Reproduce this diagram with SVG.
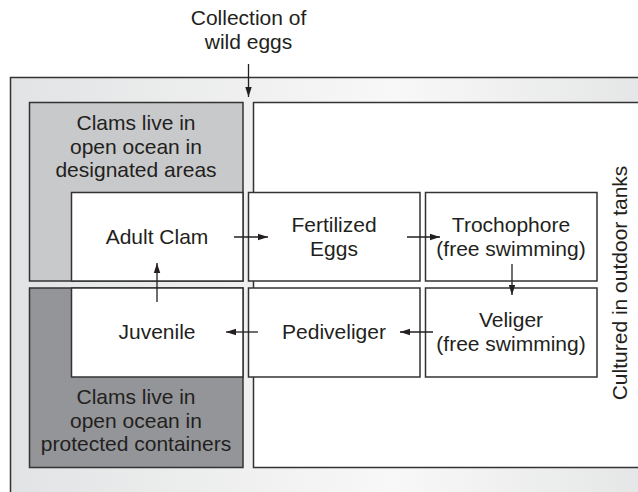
<svg xmlns="http://www.w3.org/2000/svg" width="638" height="492" viewBox="0 0 638 492">
<style>
text{font-family:"Liberation Sans",Arial,Helvetica,sans-serif;font-size:21px;fill:#231f20;text-anchor:middle}
.box{fill:#fff;stroke:#333;stroke-width:1.5}
.edge{stroke:#231f20;stroke-width:1.3;fill:none}
</style>
<defs>
<linearGradient id="fr" x1="0" y1="0" x2="1" y2="0">
<stop offset="0" stop-color="#e2e3e4"/>
<stop offset="0.55" stop-color="#f8f8f8"/>
<stop offset="1" stop-color="#e0e1e2"/>
</linearGradient>
<marker id="ah" viewBox="0 0 10 8" refX="10" refY="4" markerWidth="10" markerHeight="8" markerUnits="userSpaceOnUse" orient="auto">
<path d="M0,0.8 L10,4 L0,7.2 Z" fill="#231f20"/>
</marker>
</defs>
<g id="frame">
<rect x="10.5" y="77.5" width="700" height="500" fill="url(#fr)" stroke="#333" stroke-width="1.5"/>
</g>
<g id="tanks">
<rect x="253.5" y="102.5" width="450" height="365" class="box"/>
<text transform="translate(627,283) rotate(-90)">Cultured in outdoor tanks</text>
</g>
<g id="designated">
<rect x="29.5" y="102.5" width="213.5" height="178.5" fill="#c8c9cb" stroke="#333" stroke-width="1.5"/>
<text x="136" y="130">Clams live in</text>
<text x="136" y="153.5">open ocean in</text>
<text x="136" y="177">designated areas</text>
</g>
<g id="protected">
<rect x="29.5" y="288" width="213.5" height="179.5" fill="#939598" stroke="#333" stroke-width="1.5"/>
<text x="136" y="404">Clams live in</text>
<text x="136" y="427.5">open ocean in</text>
<text x="136" y="451">protected containers</text>
</g>
<g id="adult">
<rect x="71.5" y="192.5" width="171.5" height="88.5" class="box"/>
<text x="157" y="244">Adult Clam</text>
</g>
<g id="fertilized">
<rect x="248.5" y="192.5" width="171.5" height="88.5" class="box"/>
<text x="334" y="232">Fertilized</text>
<text x="334" y="255.5">Eggs</text>
</g>
<g id="trochophore">
<rect x="425.5" y="192.5" width="171.5" height="88.5" class="box"/>
<text x="511" y="232">Trochophore</text>
<text x="511" y="255.5">(free swimming)</text>
</g>
<g id="juvenile">
<rect x="71.5" y="288" width="171.5" height="89" class="box"/>
<text x="157" y="339">Juvenile</text>
</g>
<g id="pediveliger">
<rect x="248.5" y="288" width="171.5" height="89" class="box"/>
<text x="334" y="339">Pediveliger</text>
</g>
<g id="veliger">
<rect x="425.5" y="288" width="171.5" height="89" class="box"/>
<text x="511" y="327">Veliger</text>
<text x="511" y="350.5">(free swimming)</text>
</g>
<g id="collection">
<text x="248.5" y="25">Collection of</text>
<text x="248.5" y="48.5">wild eggs</text>
</g>
<g id="connectors">
<line class="edge" x1="248.5" y1="64" x2="248.5" y2="97" marker-end="url(#ah)"/>
<line class="edge" x1="234" y1="237" x2="268" y2="237" marker-end="url(#ah)"/>
<line class="edge" x1="407" y1="237" x2="440" y2="237" marker-end="url(#ah)"/>
<line class="edge" x1="512" y1="264" x2="512" y2="295" marker-end="url(#ah)"/>
<line class="edge" x1="433" y1="332" x2="400" y2="332" marker-end="url(#ah)"/>
<line class="edge" x1="258" y1="332" x2="226" y2="332" marker-end="url(#ah)"/>
<line class="edge" x1="157" y1="302" x2="157" y2="263" marker-end="url(#ah)"/>
</g>
</svg>
